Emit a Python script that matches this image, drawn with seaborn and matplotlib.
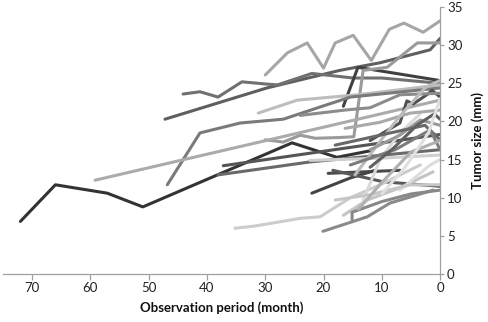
import numpy as np
import pandas as pd
import matplotlib
matplotlib.use("Agg")
import matplotlib.pyplot as plt
import seaborn as sns

# ---- data: each patient = (months before, tumor size mm) ----
p01_m = [72, 66, 57.1, 51, 25.4, 17.7, 11.7]
p01_v = [6.9, 11.7, 10.6, 8.8, 17.2, 15.3, 16.2]
p02_m = [30, 26.2, 22.8, 20, 18, 14.9, 11.8, 8.7, 6.2, 2.9, 0]
p02_v = [26.1, 29.0, 30.3, 27.0, 30.3, 31.3, 28.0, 32.1, 32.9, 31.7, 33.2]
p03_m = [47.2, 29.7, 17.2, 10.3, 1.7, 0]
p03_v = [20.3, 24.4, 26.7, 27.7, 29.4, 30.9]
p04_m = [44.1, 41.2, 38.1, 34.0, 29.7, 27.9, 22.0, 14.9, 10.0, 0]
p04_v = [23.6, 23.9, 23.2, 25.2, 24.9, 24.8, 26.3, 25.7, 25.7, 25.0]
p05_m = [16.6, 14.1, 10.8, 0.3]
p05_v = [22.0, 27.1, 26.7, 25.4]
p06_m = [30, 26.9, 24, 21.4, 17.2, 14.8, 13.2, 9.1, 3.9, 0]
p06_v = [17.6, 17.3, 18.2, 17.8, 17.9, 18.0, 26.7, 27.1, 30.3, 30.3]
p07_m = [31.2, 24.5, 14.2, 0]
p07_v = [21.1, 22.8, 23.5, 24.8]
p08_m = [46.8, 41.2, 34.3, 26.9, 20.6, 15.4, 0]
p08_v = [11.7, 18.5, 19.8, 20.3, 21.9, 23.2, 24.4]
p09_m = [59.2, 0]
p09_v = [12.3, 22.8]
p10_m = [37.2, 0]
p10_v = [14.2, 18.3]
p11_m = [38.1, 22.3, 0]
p11_v = [13.0, 14.7, 16.3]
p12_m = [22.3, 10, 0]
p12_v = [14.9, 15.2, 15.6]
p13_m = [19.2, 6.9]
p13_v = [13.2, 13.6]
p14_m = [22, 15.4, 11.1]
p14_v = [10.6, 12.6, 13.6]
p15_m = [18.4, 9.8, 0]
p15_v = [13.6, 12.1, 11.5]
p16_m = [35.2, 31.7, 24.0, 20.6, 15.4, 10.3, 3.4]
p16_v = [6.0, 6.3, 7.3, 7.5, 10.0, 11.7, 14.3]
p17_m = [20.1, 12.5, 8.6, 1.2]
p17_v = [5.6, 7.5, 9.3, 11.0]
p18_m = [16.6, 12.5, 6.9, 1.2]
p18_v = [7.7, 9.7, 11.3, 13.4]
p19_m = [15.1, 15.1, 10, 5, 0]
p19_v = [7.1, 8.1, 9.5, 10.5, 11.0]
p20_m = [13.2, 10.3, 6.9, 3.4]
p20_v = [9.7, 15.0, 18.5, 21.0]
p21_m = [12, 6.9, 5.7, 4.6, 2.1, 1.4, 0]
p21_v = [17.5, 19.8, 22.7, 22.3, 23.6, 24.1, 23.2]
p24_m = [24, 16.3, 12, 6.9, 0]
p24_v = [20.8, 21.5, 21.8, 23.5, 23.7]
p25_m = [16.3, 10.3, 5.1, 0]
p25_v = [19.1, 19.9, 21.1, 21.5]
p26_m = [14.6, 10.3, 6.9, 2.6, 0]
p26_v = [13.0, 17.4, 20.7, 24.4, 25.4]
p27_m = [12, 6.9, 3.4, 0]
p27_v = [16.3, 18.2, 20.2, 19.5]
p28_m = [18, 10.3, 2.6, 0]
p28_v = [16.9, 18.2, 19.5, 17.6]
p29_m = [15.4, 7.7, 1.7, 0]
p29_v = [14.3, 16.3, 18.9, 16.3]
p30_m = [6.9, 1.7, 0]
p30_v = [11.0, 14.3, 15.0]
p31_m = [18, 12, 5.1, 0]
p31_v = [9.7, 10.4, 11.7, 11.7]
p32_m = [14, 10, 5, 0]
p32_v = [8.5, 12.0, 16.0, 17.5]
p33_m = [12, 8, 4, 1, 0]
p33_v = [14.0, 16.5, 19.5, 21.0, 20.3]
p34_m = [10, 6, 2, 0]
p34_v = [10.5, 14.0, 18.5, 23.0]

series = {
    "p01": (p01_m, p01_v, "#333333"),
    "p02": (p02_m, p02_v, "#a6a6a6"),
    "p03": (p03_m, p03_v, "#5f5f5f"),
    "p04": (p04_m, p04_v, "#707070"),
    "p05": (p05_m, p05_v, "#404040"),
    "p06": (p06_m, p06_v, "#9a9a9a"),
    "p07": (p07_m, p07_v, "#bdbdbd"),
    "p08": (p08_m, p08_v, "#7a7a7a"),
    "p09": (p09_m, p09_v, "#ababab"),
    "p10": (p10_m, p10_v, "#555555"),
    "p11": (p11_m, p11_v, "#6a6a6a"),
    "p12": (p12_m, p12_v, "#cfcfcf"),
    "p13": (p13_m, p13_v, "#4a4a4a"),
    "p14": (p14_m, p14_v, "#444444"),
    "p15": (p15_m, p15_v, "#5a5a5a"),
    "p16": (p16_m, p16_v, "#cccccc"),
    "p17": (p17_m, p17_v, "#8a8a8a"),
    "p18": (p18_m, p18_v, "#c4c4c4"),
    "p19": (p19_m, p19_v, "#888888"),
    "p20": (p20_m, p20_v, "#d9d9d9"),
    "p21": (p21_m, p21_v, "#505050"),
    "p24": (p24_m, p24_v, "#8c8c8c"),
    "p25": (p25_m, p25_v, "#a9a9a9"),
    "p26": (p26_m, p26_v, "#bbbbbb"),
    "p27": (p27_m, p27_v, "#999999"),
    "p28": (p28_m, p28_v, "#686868"),
    "p29": (p29_m, p29_v, "#7c7c7c"),
    "p30": (p30_m, p30_v, "#dddddd"),
    "p31": (p31_m, p31_v, "#c6c6c6"),
    "p32": (p32_m, p32_v, "#b0b0b0"),
    "p33": (p33_m, p33_v, "#606060"),
    "p34": (p34_m, p34_v, "#e0e0e0"),
}

rows = []
for pid, (ms, vs, _) in series.items():
    for i, (m, v) in enumerate(zip(ms, vs)):
        rows.append({"patient": pid, "order": i, "month": m, "size": v})
df = pd.DataFrame(rows)
palette = {pid: c for pid, (_, _, c) in series.items()}

sns.set_theme(style="white")
plt.rcParams["font.family"] = ["Lato", "DejaVu Sans"]

fig = plt.figure(figsize=(4.89, 3.22), dpi=100)
ax = fig.add_axes([0.006, 0.149, 0.894, 0.829])

sns.lineplot(data=df, x="month", y="size", hue="patient", palette=palette,
             units="patient", estimator=None, sort=False, legend=False,
             linewidth=2.2, ax=ax)

ax.set_xlim(75, 0)
ax.set_ylim(0, 35)
ax.set_xticks([70, 60, 50, 40, 30, 20, 10, 0])
ax.set_yticks([0, 5, 10, 15, 20, 25, 30, 35])
ax.yaxis.tick_right()
ax.yaxis.set_label_position("right")

for s in ["left", "top"]:
    ax.spines[s].set_visible(False)
for s in ["right", "bottom"]:
    ax.spines[s].set_color("#a0a0a0")
    ax.spines[s].set_linewidth(0.9)

ax.tick_params(axis="x", direction="out", length=4, width=0.9, color="#a0a0a0",
               labelsize=9.5, labelcolor="#222222", pad=2, bottom=True)
ax.tick_params(axis="y", direction="out", length=3, width=0.9, color="#a0a0a0",
               labelsize=9.5, labelcolor="#222222", pad=2, right=True, left=False)

ax.set_xlabel("Observation period (month)", fontsize=9.5, fontweight="bold",
              color="#111111", labelpad=5)
ax.set_ylabel("Tumor size (mm)", fontsize=9.5, fontweight="bold",
              color="#111111", labelpad=6)

fig.savefig("out.png", dpi=100)
